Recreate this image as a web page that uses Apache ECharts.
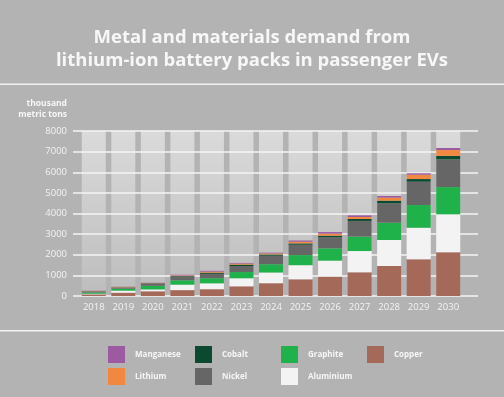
<!DOCTYPE html>
<html>
<head>
<meta charset="utf-8">
<script src="https://cdn.jsdelivr.net/npm/echarts@6/dist/echarts.min.js"></script>
<style>
  html, body { margin: 0; padding: 0; background: #b3b3b3; }
  #chart { width: 504px; height: 397px; }
</style>
</head>
<body>
<div id="chart"></div>
<script>
const years = ["2018", "2019", "2020", "2021", "2022", "2023", "2024", "2025", "2026", "2027", "2028", "2029", "2030"];
const yTicks = [0, 1000, 2000, 3000, 4000, 5000, 6000, 7000, 8000];

// thousand metric tons
const copper    = [80, 160, 230, 285, 330, 470, 620, 810, 940, 1150, 1455, 1780, 2120];
const aluminium = [30, 100, 90, 265, 285, 390, 520, 685, 775, 1030, 1260, 1530, 1840];
const graphite  = [60, 95, 175, 210, 245, 300, 400, 490, 595, 700, 840, 1100, 1320];
const nickel    = [45, 50, 110, 150, 215, 295, 410, 500, 535, 760, 940, 1130, 1340];
const cobalt    = [15, 15, 15, 50, 55, 65, 65, 65, 80, 95, 130, 130, 175];
const lithium   = [15, 20, 15, 35, 50, 50, 50, 80, 95, 95, 145, 210, 280];
const manganese = [10, 10, 10, 35, 40, 35, 35, 60, 80, 80, 80, 70, 100];

const layers = [
  { name: "Copper", data: copper, color: "#a5695a" },
  { name: "Aluminium", data: aluminium, color: "#f3f3f3" },
  { name: "Graphite", data: graphite, color: "#1fb24b" },
  { name: "Nickel", data: nickel, color: "#666666" },
  { name: "Cobalt", data: cobalt, color: "#0b4a31" },
  { name: "Lithium", data: lithium, color: "#f0883f" },
  { name: "Manganese", data: manganese, color: "#9c5aa0" }
];

const legendSpots = {
  Manganese: [108, 346], Cobalt: [195, 346], Graphite: [281, 346], Copper: [367, 346],
  Lithium: [108, 368], Nickel: [195, 368], Aluminium: [281, 368]
};

const font = "Open Sans";
const yMax = yTicks[yTicks.length - 1];

const chart = echarts.init(document.getElementById("chart"));

const option = {
  backgroundColor: "#b3b3b3",
  animation: false,
  textStyle: { fontFamily: font },
  title: {
    text: "Metal and materials demand from\nlithium-ion battery packs in passenger EVs",
    left: "center",
    top: 21,
    textStyle: { color: "#f7f7f7", fontSize: 18.5, fontWeight: "bold", lineHeight: 23, fontFamily: font }
  },
  graphic: [
    { type: "rect", shape: { x: 0, y: 83.5, width: 504, height: 1.5 }, style: { fill: "#f2f2f2" } },
    { type: "rect", shape: { x: 0, y: 330, width: 504, height: 1.5 }, style: { fill: "#f2f2f2" } },
    {
      type: "text", x: 67, y: 98,
      style: { text: "thousand\nmetric tons", fill: "#f7f7f7", font: "bold 8.5px 'Open Sans'", align: "right", lineHeight: 11 }
    }
  ],
  legend: layers.map(l => ({
    data: [l.name],
    left: legendSpots[l.name][0],
    top: legendSpots[l.name][1],
    icon: "rect",
    itemWidth: 17,
    itemHeight: 17,
    padding: 0,
    selectedMode: false,
    textStyle: { color: "#f7f7f7", fontSize: 8, fontWeight: "bold", padding: [0, 0, 0, 5], fontFamily: font }
  })),
  grid: [
    { left: 79, right: 41, top: 131, bottom: 101 },
    { left: 73, right: 26, top: 131, bottom: 101 },
    { left: 79, right: 41, top: 131, bottom: 101 }
  ],
  xAxis: [
    {
      type: "category", gridIndex: 0, data: years,
      axisLine: { show: false }, axisTick: { show: false },
      axisLabel: { color: "#f3f3f3", fontSize: 9.5, margin: 6, interval: 0 }
    },
    { type: "value", gridIndex: 1, show: false },
    { type: "category", gridIndex: 2, data: years, show: false }
  ],
  yAxis: [
    { type: "value", gridIndex: 0, min: 0, max: yMax, interval: 1000, show: false },
    {
      type: "value", gridIndex: 1, min: 0, max: yMax, interval: 1000, z: 2,
      axisLine: { show: false }, axisTick: { show: false },
      axisLabel: { color: "#f3f3f3", fontSize: 9.5, margin: 6, formatter: v => String(v) },
      splitLine: { lineStyle: { color: "#f5f5f5", width: 1.5 } }
    },
    { type: "value", gridIndex: 2, min: 0, max: yMax, show: false }
  ],
  series: [
    {
      type: "bar", name: "columns", xAxisIndex: 2, yAxisIndex: 2, z: 1,
      data: years.map(() => 0), barWidth: 24, silent: true,
      showBackground: true,
      backgroundStyle: {
        color: new echarts.graphic.LinearGradient(0, 0, 0, 1, [
          { offset: 0, color: "#dadada" },
          { offset: 1, color: "#bdbdbd" }
        ])
      }
    }
  ].concat(layers.map(l => ({
    type: "bar", name: l.name, stack: "total", xAxisIndex: 0, yAxisIndex: 0, z: 3,
    barWidth: 24, data: l.data, itemStyle: { color: l.color }
  })))
};

chart.setOption(option);
</script>
</body>
</html>
